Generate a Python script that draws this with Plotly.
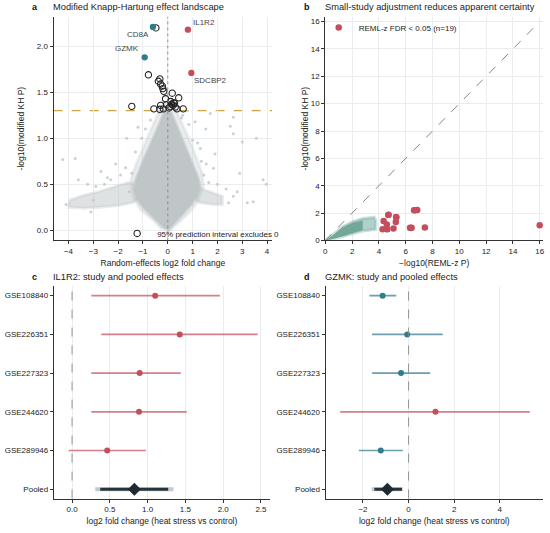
import plotly.graph_objects as go

RED = "#c44e5c"
RED_LINE = "rgba(196,78,92,0.72)"
TEAL = "#2f7d8d"
TEAL_LINE = "rgba(47,125,141,0.72)"
GREY_PT = "#c0c5c8"
FONT = "Liberation Sans, Arial, sans-serif"

# ---- panel a: effect landscape ----
gene_names = ["CD8A", "GZMK", "IL1R2", "SDCBP2"]
gene_lfc = [-0.60, -0.93, 0.81, 0.95]
gene_p = [2.21, 1.88, 2.18, 1.71]
label_x = [-1.19, -1.63, 1.44, 1.71]
label_y = [2.13, 1.98, 2.26, 1.63]

# genes whose 95% prediction interval excludes 0
pi_lfc = [-0.48, -0.78, -0.32, -0.38, -0.29, -0.22, -0.20, -0.16, 0.18, -0.09,
          0.44, 0.11, 0.24, -1.45, -0.29, -0.56, -0.32, 0.62, 0.37, -0.05,
          0.10, 0.22, 0.30, 0.15, 0.05, -0.18, 0.27]
pi_p = [2.20, 1.69, 1.645, 1.62, 1.59, 1.567, 1.54, 1.51, 1.49, 1.43,
        1.44, 1.40, 1.387, 1.347, 1.358, 1.32, 1.315, 1.32, 1.32, 1.365,
        1.345, 1.36, 1.34, 1.37, 1.33, 1.32, 1.38]

# outline of the background gene cloud: soft halo, dense core and the two tails
halo_x = [0.0, 0.45, 0.9, 1.25, 1.45, 1.38, 1.2, 0.98, 0.74, 0.5, 0.28, 0.02, -0.25, -0.55,
          -0.8, -1.03, -1.3, -1.5, -1.42, -1.1, -0.6, -0.25]
halo_y = [-0.03, 0.08, 0.2, 0.32, 0.48, 0.63, 0.77, 0.92, 1.07, 1.22, 1.34, 1.4, 1.35, 1.18,
          1.03, 0.88, 0.71, 0.55, 0.36, 0.22, 0.11, 0.01]
core_x = [0.0, 0.3, 0.65, 0.95, 1.2, 1.3, 1.22, 1.05, 0.85, 0.65, 0.48, 0.32, 0.15, 0.02,
          -0.12, -0.3, -0.48, -0.7, -0.92, -1.12, -1.3, -1.36, -1.25, -1.0, -0.65, -0.35, -0.12]
core_y = [0.0, 0.09, 0.19, 0.28, 0.38, 0.47, 0.57, 0.68, 0.80, 0.93, 1.05, 1.16, 1.27, 1.32,
          1.30, 1.18, 1.06, 0.93, 0.80, 0.67, 0.54, 0.45, 0.34, 0.25, 0.16, 0.08, 0.02]
ltail_x = [-1.2, -1.6, -2.2, -2.8, -3.4, -3.95, -4.0, -3.4, -2.7, -2.0, -1.4, -1.2]
ltail_y = [0.50, 0.52, 0.47, 0.42, 0.38, 0.33, 0.25, 0.24, 0.25, 0.27, 0.30, 0.35]
rtail_x = [1.1, 1.5, 1.9, 2.2, 2.2, 1.8, 1.3, 1.1]
rtail_y = [0.48, 0.44, 0.40, 0.37, 0.28, 0.28, 0.30, 0.33]
sparse_lfc = [-4.23, -3.73, -1.65, 1.53, 2.52, 2.64, 3.0, 3.57, 1.9, 3.84, 3.97, 3.44, 2.64,
              -2.43, -2.69, -3.23, 1.84, 1.31, 0.77, 1.71, 2.64, -1.2, -2.1, 2.9, -3.6, 1.1,
              -1.9, -2.3, -2.9, -3.1, -1.7, -1.45, 1.45, 1.65, 2.0, 2.35, 2.45, 1.35, -0.9,
              0.85, -1.05, 0.6, -4.1, -3.0, 3.2, 2.8, -2.55, 1.2, -0.7, 0.55, -0.35, 0.4,
              1.0, -1.3, 1.55, -1.55, 0.25, -0.2]
sparse_p = [0.77, 0.78, 1.0, 1.1, 1.13, 1.05, 0.96, 1.0, 0.83, 0.55, 0.5, 0.31, 0.37,
            0.57, 0.64, 0.5, 0.675, 0.89, 1.30, 1.27, 1.23, 1.12, 0.72, 0.62, 0.55, 1.18,
            0.6, 0.55, 0.48, 0.2, 0.68, 0.62, 0.6, 0.52, 0.5, 0.45, 0.3, 0.75, 1.1,
            1.15, 1.0, 1.25, 0.28, 0.33, 0.3, 0.42, 0.5, 0.95, 1.2, 1.22, 1.28, 1.3,
            0.98, 0.85, 0.72, 0.42, 1.38, 1.4]

# ---- panel b: REML-z vs modified KH ----
cloud_reml = [0.0, 0.56, 1.30, 2.04, 2.79, 3.65, 3.78, 3.75, 2.79, 2.04, 1.30, 0.56, 0.0]
cloud_kh = [0.0, 0.40, 1.02, 1.38, 1.60, 1.70, 1.40, 0.80, 0.68, 0.49, 0.27, 0.10, 0.0]
core_reml = [0.0, 0.56, 1.30, 2.04, 2.79, 2.79, 2.04, 1.30, 0.56, 0.0]
core_kh = [0.0, 0.36, 0.95, 1.28, 1.45, 0.76, 0.55, 0.30, 0.12, 0.0]
sig_reml = [4.72, 4.35, 4.59, 4.27, 4.62, 5.09, 5.28, 5.26, 6.62, 6.86, 6.32, 6.44, 7.43, 16.0,
            4.70, 5.30, 6.70, 4.60, 6.38]
sig_kh = [1.88, 1.42, 1.16, 0.82, 0.82, 0.87, 1.71, 1.35, 2.20, 2.22, 0.92, 0.92, 0.94, 1.11,
          1.86, 1.69, 2.21, 0.84, 0.91]
diag = [0, 16]

# ---- panels c, d: forest plots ----
studies = ["GSE108840", "GSE226351", "GSE227323", "GSE244620", "GSE289946"]
rows = studies + ["Pooled"]

il1r2_est = [1.10, 1.425, 0.895, 0.886, 0.465]
il1r2_lo = [0.254, 0.386, 0.254, 0.254, -0.044]
il1r2_hi = [1.956, 2.456, 1.439, 1.518, 0.978]
il1r2_pool = 0.825
il1r2_ci = [0.373, 1.272]
il1r2_pi = [0.307, 1.342]

gzmk_est = [-1.14, -0.06, -0.33, 1.18, -1.22]
gzmk_lo = [-1.72, -1.60, -1.60, -3.00, -2.18]
gzmk_hi = [-0.54, 1.50, 0.95, 5.32, -0.25]
gzmk_pool = -0.93
gzmk_ci = [-1.50, -0.29]
gzmk_pi = [-1.62, -0.26]

fig = go.Figure()


def add_blob(xs, ys, fill, edge, xa="x", ya="y"):
    fig.add_trace(go.Scatter(x=xs, y=ys, fill="toself", mode="lines",
                             line=dict(color=edge, width=3), fillcolor=fill,
                             hoverinfo="skip", showlegend=False, xaxis=xa, yaxis=ya))


# panel a
add_blob(halo_x, halo_y, "rgba(192,197,200,0.35)", "rgba(192,197,200,0.2)")
add_blob(ltail_x, ltail_y, "rgba(192,197,200,0.5)", "rgba(192,197,200,0.3)")
add_blob(rtail_x, rtail_y, "rgba(192,197,200,0.5)", "rgba(192,197,200,0.3)")
add_blob(core_x, core_y, GREY_PT, "rgba(192,197,200,0.6)")
fig.add_trace(go.Scatter(x=sparse_lfc, y=sparse_p, mode="markers",
                         marker=dict(color="rgba(192,197,200,0.8)", size=3),
                         showlegend=False, xaxis="x", yaxis="y"))
fig.add_trace(go.Scatter(x=pi_lfc, y=pi_p, mode="markers",
                         marker=dict(symbol="circle-open", color="#222", size=6.3,
                                     line=dict(width=1.1)),
                         name="95% prediction interval excludes 0",
                         legend="legend2", xaxis="x", yaxis="y"))
fig.add_trace(go.Scatter(x=gene_lfc, y=gene_p, mode="markers",
                         marker=dict(color=[RED if v > 0 else TEAL for v in gene_lfc], size=6.3),
                         showlegend=False, xaxis="x", yaxis="y"))

# panel b
add_blob(cloud_reml, cloud_kh, "rgba(113,169,156,0.55)", "rgba(113,169,156,0.35)", "x2", "y2")
add_blob(core_reml, core_kh, "rgba(103,160,146,0.85)", "rgba(103,160,146,0.0)", "x2", "y2")
fig.add_trace(go.Scatter(x=diag, y=diag, mode="lines",
                         line=dict(color="#777", width=0.9, dash="dash"),
                         showlegend=False, xaxis="x2", yaxis="y2"))
fig.add_trace(go.Scatter(x=sig_reml, y=sig_kh, mode="markers",
                         marker=dict(color=RED, size=6.5),
                         name=f"REML-z FDR < 0.05 (n={len(sig_reml)})",
                         legend="legend", xaxis="x2", yaxis="y2"))


def add_forest(est, lo, hi, pool, ci, pi, xa, ya):
    for s, e, l, h in zip(studies, est, lo, hi):
        col, lcol = (RED, RED_LINE) if e > 0 else (TEAL, TEAL_LINE)
        fig.add_trace(go.Scatter(x=[l, h], y=[s, s], mode="lines",
                                 line=dict(color=lcol, width=1.6),
                                 showlegend=False, xaxis=xa, yaxis=ya))
        fig.add_trace(go.Scatter(x=[e], y=[s], mode="markers",
                                 marker=dict(color=col, size=6),
                                 showlegend=False, xaxis=xa, yaxis=ya))
    fig.add_trace(go.Scatter(x=pi, y=["Pooled", "Pooled"], mode="lines",
                             line=dict(color="#c5c9cc", width=4),
                             showlegend=False, xaxis=xa, yaxis=ya))
    fig.add_trace(go.Scatter(x=ci, y=["Pooled", "Pooled"], mode="lines",
                             line=dict(color="#26343d", width=3),
                             showlegend=False, xaxis=xa, yaxis=ya))
    fig.add_trace(go.Scatter(x=[pool], y=["Pooled"], mode="markers",
                             marker=dict(symbol="diamond", color="#1e2b33", size=10),
                             showlegend=False, xaxis=xa, yaxis=ya))


add_forest(il1r2_est, il1r2_lo, il1r2_hi, il1r2_pool, il1r2_ci, il1r2_pi, "x3", "y3")
add_forest(gzmk_est, gzmk_lo, gzmk_hi, gzmk_pool, gzmk_ci, gzmk_pi, "x4", "y4")

W, H = 550, 533


def px(x):
    return x / W


def py(y):
    return 1 - y / H


axis_common = dict(showline=True, linecolor="#333", linewidth=1.1, ticks="outside",
                   ticklen=3, tickcolor="#333", tickfont=dict(size=8, color="#222"),
                   gridcolor="#e9edf0", gridwidth=0.8, zeroline=False,
                   title_font=dict(size=8.5, color="#222"))

shapes = []
for xr, yr, dash in [("x", "y", "dot"), ("x3", "y3", "dash"), ("x4", "y4", "dash")]:
    shapes.append(dict(type="line", xref=xr, yref=yr + " domain", x0=0, x1=0, y0=0, y1=1,
                       line=dict(color="#888", width=0.9, dash=dash), layer="above"))
shapes.append(dict(type="line", xref="x domain", yref="y", x0=0, x1=1, y0=1.301, y1=1.301,
                   line=dict(color="#d1a448", width=1.1, dash="dash"), layer="below"))

annotations = []
for letter, title, lx, tx, ty in [("a", "Modified Knapp-Hartung effect landscape", 33, 50, 7.5),
                                  ("b", "Small-study adjustment reduces apparent certainty", 307, 324, 7.5),
                                  ("c", "IL1R2: study and pooled effects", 33, 50, 280),
                                  ("d", "GZMK: study and pooled effects", 307, 324, 280)]:
    annotations.append(dict(text=f"<b>{letter}</b>", x=px(lx), y=py(ty), xref="paper", yref="paper",
                            xanchor="center", yanchor="middle", showarrow=False,
                            font=dict(size=9, color="#111")))
    annotations.append(dict(text=title, x=px(tx), y=py(ty), xref="paper", yref="paper",
                            xanchor="left", yanchor="middle", align="left", showarrow=False,
                            borderpad=0, font=dict(size=9.3, color="#222")))
for n, lxv, lyv in zip(gene_names, label_x, label_y):
    annotations.append(dict(text=n, x=lxv, y=lyv, xref="x", yref="y", showarrow=False,
                            font=dict(size=8, color="#444")))

fig.update_layout(
    width=W, height=H,
    margin=dict(l=0, r=0, t=0, b=0),
    paper_bgcolor="white", plot_bgcolor="white",
    font=dict(family=FONT, color="#222"),
    shapes=shapes, annotations=annotations,
    xaxis=dict(axis_common, domain=[px(52), px(272)], range=[-4.6, 4.2], dtick=1,
               title=dict(text="Random-effects log2 fold change", standoff=4), anchor="y"),
    yaxis=dict(axis_common, domain=[py(242.7), py(17)], range=[-0.11, 2.32], dtick=0.5,
               tickformat=".1f", title=dict(text="-log10(modified KH P)", standoff=10), anchor="x"),
    xaxis2=dict(axis_common, domain=[px(325.7), px(545)], range=[0, 16.25], dtick=2,
                title=dict(text="\u2212log10(REML-z P)", standoff=4), anchor="y2"),
    yaxis2=dict(axis_common, domain=[py(242.7), py(17)], range=[0, 16.35], dtick=2,
                title=dict(text="-log10(modified KH P)", standoff=0), anchor="x2"),
    xaxis3=dict(axis_common, domain=[px(52.3), px(270)], range=[-0.24, 2.62], dtick=0.5,
                tickformat=".1f",
                title=dict(text="log2 fold change (heat stress vs control)", standoff=4), anchor="y3"),
    yaxis3=dict(axis_common, domain=[py(503.3), py(288.3)], type="category",
                categoryorder="array", categoryarray=rows, range=[5.24, -0.26],
                showgrid=False, anchor="x3"),
    xaxis4=dict(axis_common, domain=[px(326), px(545)], range=[-3.64, 5.9], dtick=2,
                title=dict(text="log2 fold change (heat stress vs control)", standoff=4), anchor="y4"),
    yaxis4=dict(axis_common, domain=[py(503.3), py(288.3)], type="category",
                categoryorder="array", categoryarray=rows, range=[5.24, -0.26],
                showgrid=False, anchor="x4"),
    legend=dict(x=px(319), y=py(13), xanchor="left", yanchor="top", bgcolor="rgba(0,0,0,0)",
                font=dict(size=8), itemwidth=30),
    legend2=dict(x=px(116), y=py(221), xanchor="left", yanchor="top", bgcolor="rgba(0,0,0,0)",
                 font=dict(size=8), itemwidth=30),
)

# drop the browser's default 8px body margin so the figure fills the window
fig.write_html("out.html", config={"displayModeBar": False},
               post_script="document.body.style.margin='0';")
